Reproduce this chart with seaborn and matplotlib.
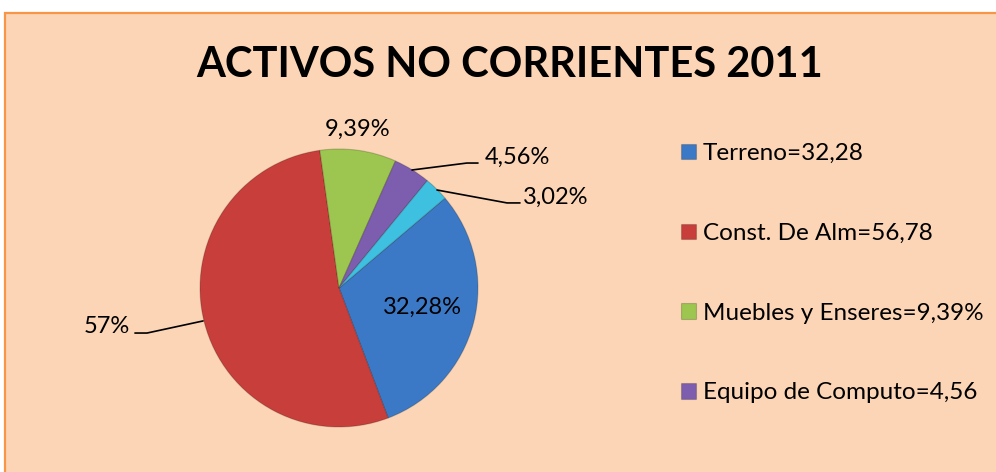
import matplotlib
matplotlib.use("Agg")
import matplotlib.pyplot as plt
from matplotlib.patches import Rectangle
import seaborn as sns

# datos del grafico
categorias = ["Terreno", "Const. De Alm", "Muebles y Enseres", "Equipo de Computo", "Otros"]
valores = [32.28, 56.78, 9.39, 4.56, 3.02]
etiquetas_pct = ["32,28%", "57%", "9,39%", "4,56%", "3,02%"]
leyenda = ["Terreno=32,28", "Const. De Alm=56,78", "Muebles y Enseres=9,39%", "Equipo de Computo=4,56"]
colores = ["#3B79C6", "#C73E3B", "#9CC64F", "#7D5DAE", "#3EC0E0"]

sns.set_theme(style="white")
plt.rcParams["font.family"] = ["Lato", "DejaVu Sans"]
plt.rcParams["text.color"] = "black"

W, H = 996, 472
fig = plt.figure(figsize=(W / 100, H / 100), dpi=100)
fig.patch.set_facecolor("white")

# fondo del area del grafico
fig.patches.append(Rectangle((5 / W, -0.1), 1.1, 1 - 13 / H + 0.1, transform=fig.transFigure,
                             facecolor="#FBD5B5", edgecolor="#F79646", linewidth=1.6, zorder=-5))

fig.text(510 / W, 1 - 65 / H, "ACTIVOS NO CORRIENTES 2011", ha="center", va="center",
         fontsize=30, fontweight="bold", color="black")

# ejes del pastel: centro (339, 288) px, radio 139 px
cx, cy, r = 339, 288, 139
ax = fig.add_axes([(cx - r) / W, (H - cy - r) / H, 2 * r / W, 2 * r / H])
ax.set_zorder(2)
ax.patch.set_alpha(0)

wedges, _ = ax.pie(valores, colors=colores, startangle=40.3, counterclock=False, radius=1,
                   wedgeprops=dict(edgecolor="#00000030", linewidth=0.8))
ax.set_xlim(-1, 1)
ax.set_ylim(-1, 1)
ax.axis("off")

fs = 17
ax.text(0.60, -0.137, etiquetas_pct[0], ha="center", va="center", fontsize=fs)
ax.text(-1.505, -0.28, etiquetas_pct[1], ha="right", va="center", fontsize=fs)
ax.text(0.137, 1.144, etiquetas_pct[2], ha="center", va="center", fontsize=fs)
ax.text(1.05, 0.942, etiquetas_pct[3], ha="left", va="center", fontsize=fs)
ax.text(1.324, 0.655, etiquetas_pct[4], ha="left", va="center", fontsize=fs)

# lineas guia
ax.plot([-1.468, -1.381, -0.978], [-0.324, -0.324, -0.237], color="black", lw=1.2, clip_on=False)
ax.plot([0.525, 0.92, 1.0], [0.849, 0.899, 0.899], color="black", lw=1.2, clip_on=False)
ax.plot([0.705, 1.209, 1.302], [0.705, 0.612, 0.612], color="black", lw=1.2, clip_on=False)

leg = fig.legend(wedges[:4], leyenda, loc="upper left", bbox_to_anchor=(681 / W, 1 - 143 / H),
                 frameon=False, fontsize=17.5, handlelength=0.6, handleheight=0.6,
                 handletextpad=0.3, labelspacing=2.42, borderaxespad=0, borderpad=0)
for t in leg.get_texts():
    t.set_color("black")

fig.savefig("out.png", dpi=100, facecolor=fig.get_facecolor())
